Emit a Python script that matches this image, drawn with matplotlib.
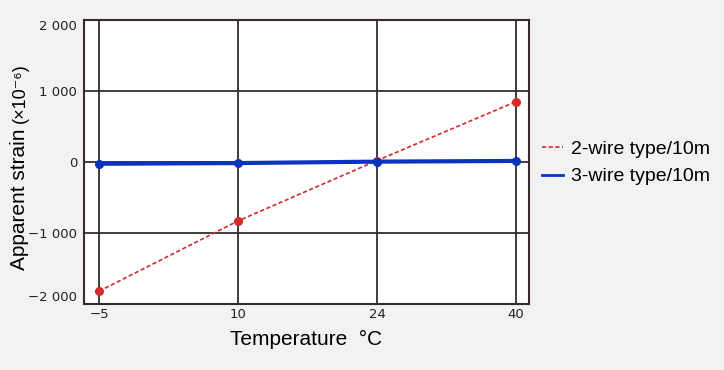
import matplotlib
matplotlib.use("Agg")
import matplotlib.pyplot as plt
from matplotlib.lines import Line2D

temps = ["\u22125", "10", "24", "40"]
two_wire = [-1820, -830, 20, 850]
three_wire = [-25, -15, 5, 15]
yticks = [-2000, -1000, 0, 1000, 2000]
ytick_labels = ["\u22122 000", "\u22121 000", "0", "1 000", "2 000"]

bg = "#f2f2f2"
edge = "#352b2b"
red = "#d42a2a"
blue = "#0a34c0"
sans = ["Liberation Sans", "DejaVu Sans"]
narrow = ["Liberation Sans Narrow", "DejaVu Sans"]

fig = plt.figure(figsize=(7.24, 3.70), dpi=100, facecolor=bg)
ax = fig.add_axes([84/724, 1 - 304/370, (529-84)/724, (304-20)/370])
ax.set_facecolor("white")

x = list(range(len(temps)))
ax.set_xlim(-0.108, 3.094)
ax.set_ylim(-2000, 2000)

for xi in x:
    ax.axvline(xi, color=edge, lw=1.3, zorder=1)
for yv in [-1000, 0, 1000]:
    ax.axhline(yv, color=edge, lw=1.3, zorder=1)

ax.plot(x, two_wire, color=red, lw=1.2, ls=(0, (2.5, 1.5)), marker="o", ms=5.5, zorder=3)
ax.plot(x, three_wire, color=blue, lw=3, marker="o", ms=5.5, zorder=4)

ax.set_xticks(x)
ax.set_xticklabels(temps)
ax.set_yticks(yticks)
ax.set_yticklabels(ytick_labels)
for lab in ax.get_xticklabels() + ax.get_yticklabels():
    lab.set_fontfamily(narrow)
    lab.set_fontsize(9.5)
    lab.set_color("#222222")
ylabs = ax.get_yticklabels()
ylabs[-1].set_va("top")
ylabs[0].set_va("bottom")
ax.tick_params(axis="y", length=0, pad=5)
ax.tick_params(axis="x", length=0, pad=3)
for s in ax.spines.values():
    s.set_color(edge)
    s.set_linewidth(1.5)

ax.set_xlabel("Temperature  \u00b0C", fontsize=15, family=sans, labelpad=6)

fig.text(20/724, 1 - 270/370, "Apparent strain", rotation=90, ha="center", va="bottom",
         fontsize=15, family=sans)
fig.text(20/724, 1 - 123/370, "(\u00d710\u207b\u2076)", rotation=90, ha="center", va="bottom",
         fontsize=13, family=sans)

handles = [Line2D([], [], color=red, lw=1.2, ls=(0, (2.5, 1.5))),
           Line2D([], [], color=blue, lw=2)]
fig.legend(handles, ["2-wire type/10m", "3-wire type/10m"], loc="center left",
           bbox_to_anchor=(528/724, 1 - 163/370), frameon=False, handlelength=1.1,
           handletextpad=0.4, labelspacing=0.5, borderpad=0.2,
           prop={"family": sans, "size": 14})

fig.savefig("out.png", dpi=100, facecolor=bg)
